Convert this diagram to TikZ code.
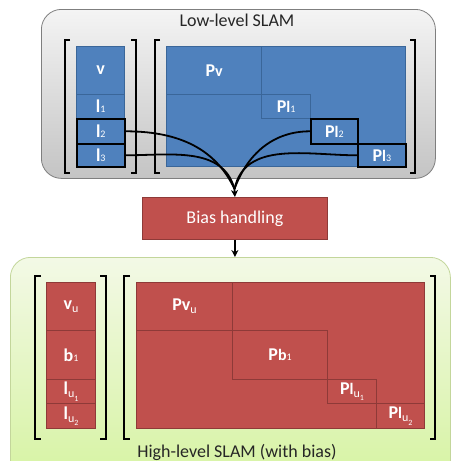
\documentclass[tikz,border=0pt]{standalone}
\usepackage{fontspec}
\setmainfont{Carlito}
\usetikzlibrary{arrows.meta}
\definecolor{cblue}{HTML}{4F81BD}
\definecolor{cblueb}{HTML}{3A6699}
\definecolor{cred}{HTML}{C0504D}
\definecolor{credb}{HTML}{8E3A38}
\definecolor{gtop}{HTML}{F4F4F4}
\definecolor{gbot}{HTML}{C4C4C4}
\definecolor{gbord}{HTML}{7F7F7F}
\definecolor{ltop}{HTML}{F3F9E6}
\definecolor{lbot}{HTML}{D6F3A2}
\definecolor{lbord}{HTML}{C3D69B}
\newcommand\lo[1]{\raisebox{-0.35ex}{\fontsize{12}{12}\selectfont\mdseries #1}}
\newcommand\lolo[1]{\raisebox{-0.75ex}{\fontsize{8}{8}\selectfont\mdseries #1}}
\newcommand\sm[1]{{\fontsize{10}{10}\selectfont\mdseries #1}}
\newcommand\md[1]{{\fontsize{16}{16}\selectfont #1}}
\tikzset{
  cellbase/.style={anchor=north west, inner sep=0pt, text=white,
    font=\fontsize{18}{18}\selectfont\bfseries},
  bcell/.style={cellbase, fill=cblue, draw=cblueb, line width=1.2pt},
  rcell/.style={cellbase, fill=cred, draw=credb, line width=1.2pt},
  hcell/.style={line width=1.6pt, draw=black},
  brk/.style={line width=2.2pt, draw=black, line join=miter},
  conn/.style={line width=1.8pt, draw=black},
  tipped/.style={conn, -{Stealth[length=7pt,width=7pt]}},
  panel/.style={anchor=north west, rounded corners=20pt, inner sep=0pt},
}
\begin{document}
\begin{tikzpicture}[x=1pt,y=-1pt]
\useasboundingbox (0,0) rectangle (451,461);

% panels
\node[panel, top color=gtop, bottom color=gbot, draw=gbord, line width=0.8pt,
  minimum width=394pt, minimum height=169pt] (low) at (41,9) {};
\node[panel, top color=ltop, bottom color=lbot, draw=lbord, line width=0.8pt,
  minimum width=440pt, minimum height=225pt] (high) at (10,257) {};
\node[anchor=base, font=\fontsize{18}{18}\selectfont, text=black!85] (lowt) at (237,26) {Low-level SLAM};
\node[anchor=base, font=\fontsize{18}{18}\selectfont, text=black!85] (hight) at (237,457) {High-level SLAM (with bias)};

% ---- low-level vector
\node[bcell, minimum width=48pt, minimum height=48pt] (v) at (76,46) {v};
\node[bcell, minimum width=48pt, minimum height=24pt] (l1) at (76,94) {l\sm{1}};
\node[bcell, hcell, minimum width=48pt, minimum height=25pt] (l2) at (76,118) {l\sm{2}};
\node[bcell, hcell, minimum width=48pt, minimum height=23pt] (l3) at (76,143) {l\sm{3}};
% ---- low-level matrix
\node[bcell, minimum width=239pt, minimum height=120pt] (Pm) at (166,46) {};
\node[bcell, minimum width=95pt, minimum height=48pt] (Pv) at (166,46) {P\md{v}};
\node[bcell, minimum width=49pt, minimum height=24pt] (Pl1) at (261,94) {P\md{l}\sm{1}};
\node[bcell, hcell, minimum width=47pt, minimum height=25pt] (Pl2) at (310,118) {P\md{l}\sm{2}};
\node[bcell, hcell, minimum width=48pt, minimum height=23pt] (Pl3) at (357,143) {P\md{l}\sm{3}};
% brackets low
\draw[brk] (70,40) -- (65,40) -- (65,173) -- (70,173);
\draw[brk] (131,40) -- (136,40) -- (136,173) -- (131,173);
\draw[brk] (160,40) -- (155,40) -- (155,173) -- (160,173);
\draw[brk] (410,40) -- (415,40) -- (415,173) -- (410,173);

% ---- bias handling
\node[anchor=north west, fill=cred, draw=credb, line width=0.8pt, inner sep=0pt,
  minimum width=185pt, minimum height=42pt, text=white,
  font=\fontsize{18}{18}\selectfont] (bias) at (142,197) {Bias handling};

% connectors
\coordinate (m) at (234.5,189);
\draw[conn] (l2.east) to[out=0,in=115] (m);
\draw[conn] (l3.east) to[out=0,in=105] (m);
\draw[conn] (Pl2.west) to[out=180,in=70] (m);
\draw[conn] (Pl3.west) to[out=180,in=78] (m);
\draw[tipped] (m) -- (bias.north);
\draw[tipped] (bias.south) -- (bias.south |- high.north);

% ---- high-level vector
\node[rcell, minimum width=49pt, minimum height=48pt] (vu) at (46,282) {v\lo{u}};
\node[rcell, minimum width=49pt, minimum height=49pt] (b1) at (46,330) {b\sm{1}};
\node[rcell, minimum width=49pt, minimum height=24pt] (lu1) at (46,379) {l\lo{u}\lolo{1}};
\node[rcell, minimum width=49pt, minimum height=25pt] (lu2) at (46,403) {l\lo{u}\lolo{2}};
% ---- high-level matrix
\node[rcell, minimum width=288pt, minimum height=146pt] (Qm) at (136,282) {};
\node[rcell, minimum width=96pt, minimum height=48pt] (Pvu) at (136,282) {Pv\lo{u}};
\node[rcell, minimum width=95pt, minimum height=49pt] (Pb1) at (232,330) {P\md{b}\sm{1}};
\node[rcell, minimum width=49pt, minimum height=24pt] (Plu1) at (327,379) {P\md{l}\lo{u}\lolo{1}};
\node[rcell, minimum width=48pt, minimum height=25pt] (Plu2) at (376,403) {P\md{l}\lo{u}\lolo{2}};
% brackets high
\draw[brk] (41,276) -- (35,276) -- (35,439) -- (41,439);
\draw[brk] (100,276) -- (106,276) -- (106,439) -- (100,439);
\draw[brk] (130,276) -- (124,276) -- (124,439) -- (130,439);
\draw[brk] (430,276) -- (435,276) -- (435,439) -- (430,439);
\end{tikzpicture}
\end{document}
